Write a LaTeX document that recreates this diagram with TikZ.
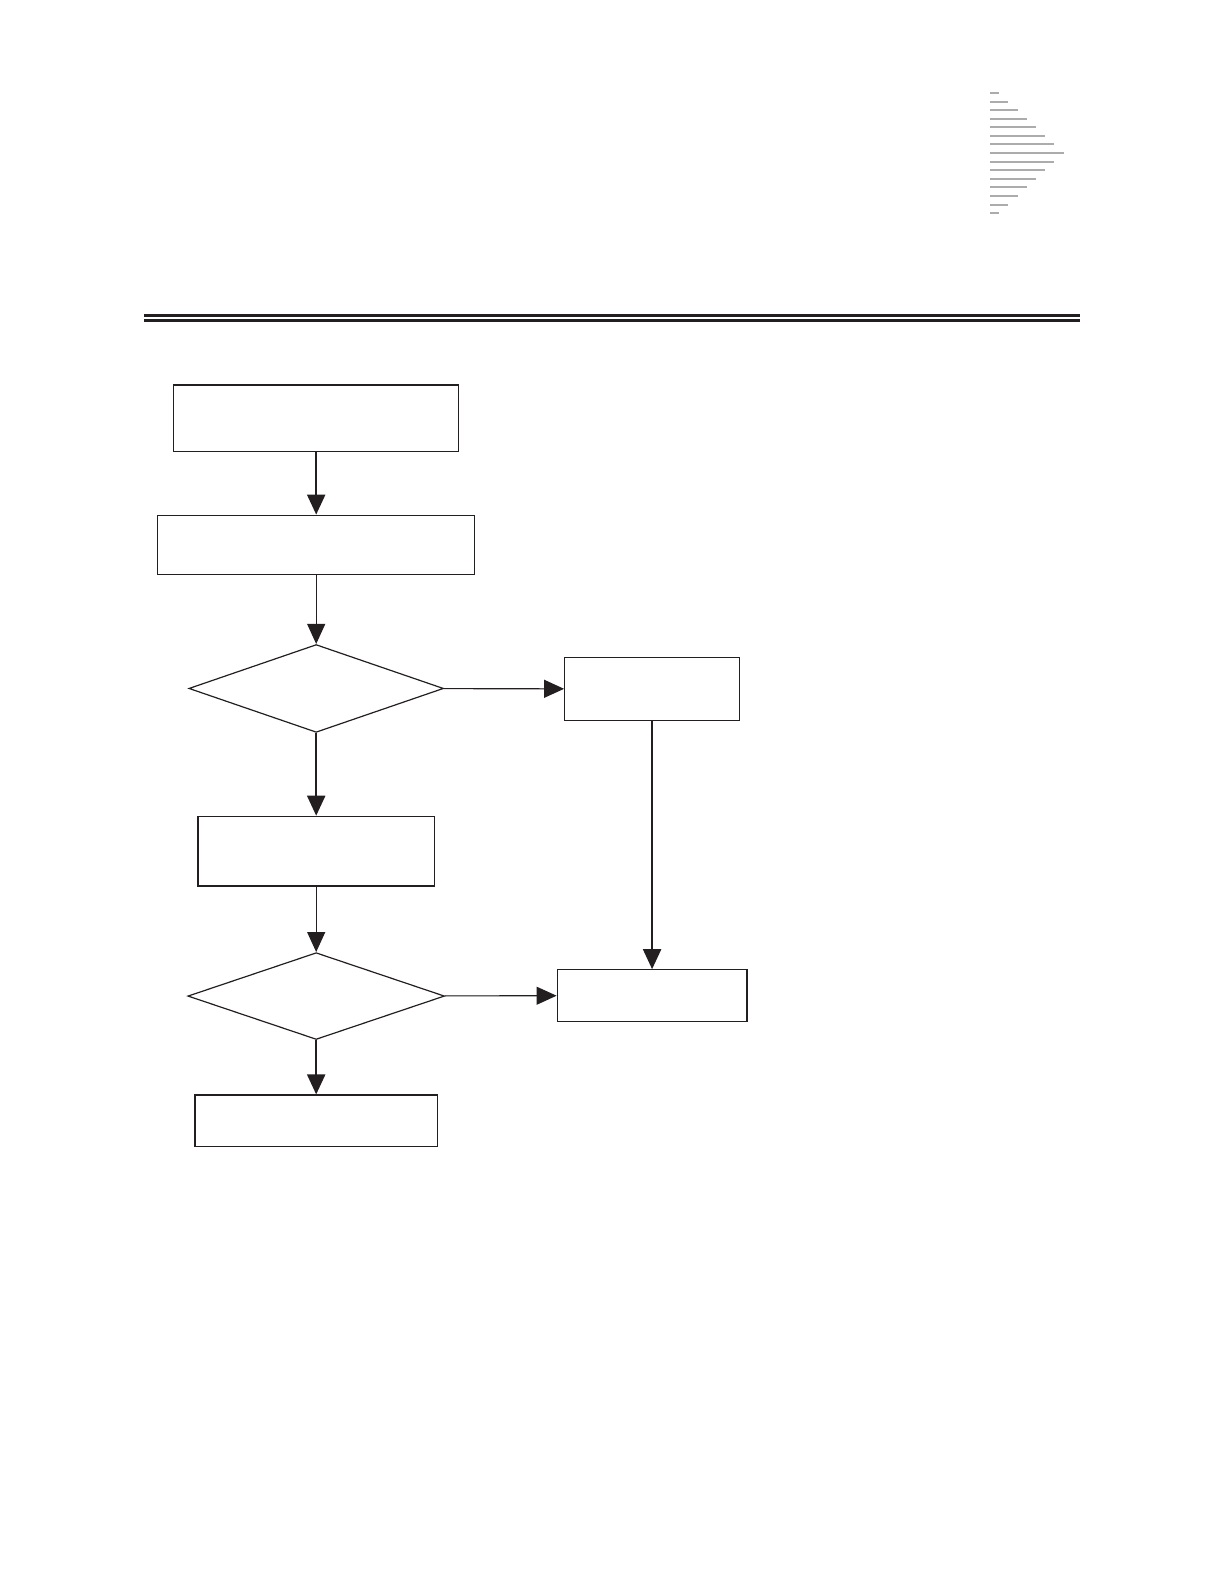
\documentclass[tikz,border=0pt]{standalone}
\usepackage{xcolor}
\usepackage{tikz}
\usetikzlibrary{positioning,arrows.meta,shapes.geometric}

\definecolor{ink}{HTML}{231F20}

\begin{document}
\begin{tikzpicture}[
    x=0.505pt, y=-0.505pt,
    box/.style={draw=ink, line width=0.6pt, inner sep=0pt},
    decide/.style={draw=ink, diamond, line width=0.6pt, inner sep=0pt},
    arr/.style={-{Triangle[length=10pt, width=9pt]}, draw=ink, fill=ink, line width=1.1pt},
    thinarr/.style={arr, line width=0.55pt},
    rule/.style={draw=ink, line width=1.6pt},
    tick/.style={draw=gray!65, line width=1pt}
  ]
    \useasboundingbox (0,0) rectangle (1212,1568);
    % grey marks, top right
    \foreach \i in {1,...,15} {
      \pgfmathsetmacro{\len}{9.1*(8-abs(\i-8))}
      \coordinate (t\i) at (980, {92+8.5*(\i-1)});
      \draw[tick] (t\i) -- ++(\len,0);
    }
    % double rule
    \coordinate (ra) at (143,312);
    \coordinate (rb) at (1069,312);
    \draw[rule] (ra) -- (rb);
    \draw[rule] ([yshift=-2.6pt]ra) -- ([yshift=-2.6pt]rb);
    % flow
    \node[box, minimum width=142.4pt, minimum height=33.3pt] (start) at (313,414) {};
    \node[box, minimum width=158.6pt, minimum height=29.8pt] (prep) at (313,539.5) {};
    \node[decide, minimum width=127.3pt, minimum height=43.9pt] (askA) at (313,681.5) {};
    \node[box, minimum width=87.4pt, minimum height=31.3pt] (sideA) at (645.5,682) {};
    \node[box, minimum width=118.2pt, minimum height=34.8pt] (work) at (313,842.5) {};
    \node[decide, minimum width=128.3pt, minimum height=43.4pt] (askB) at (313,986) {};
    \node[box, minimum width=94.9pt, minimum height=25.8pt] (sideB) at (645.5,985.5) {};
    \node[box, minimum width=121.2pt, minimum height=25.8pt] (done) at (313,1109.5) {};
    \draw[arr] (start) -- (prep);
    \draw[thinarr] (prep) -- (askA);
    \draw[thinarr] (askA) -- (sideA);
    \draw[arr] (askA) -- (work);
    \draw[arr] (sideA) -- (sideB);
    \draw[thinarr] (work) -- (askB);
    \draw[thinarr] (askB) -- (sideB);
    \draw[arr] (askB) -- (done);
  \end{tikzpicture}
\end{document}
